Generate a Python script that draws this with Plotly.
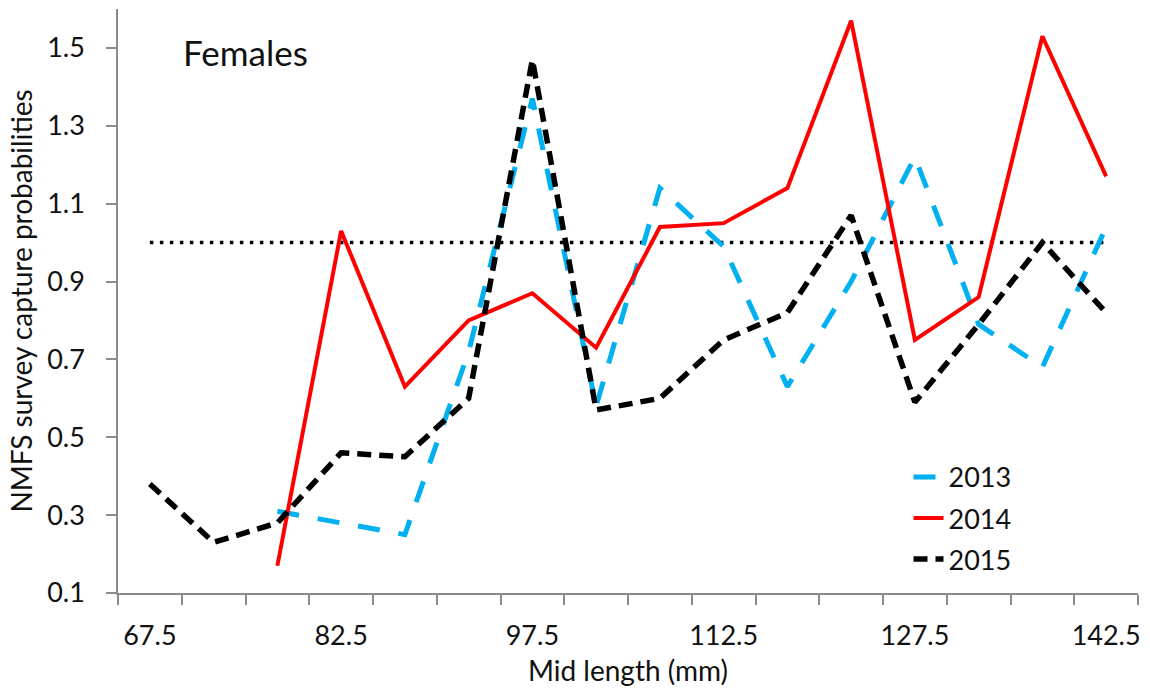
import plotly.graph_objects as go

# Mid length categories (mm)
mid_length = [67.5, 72.5, 77.5, 82.5, 87.5, 92.5, 97.5, 102.5, 107.5,
              112.5, 117.5, 122.5, 127.5, 132.5, 137.5, 142.5]
x_tick_labels = [67.5, 82.5, 97.5, 112.5, 127.5, 142.5]
y_tick_values = [0.1, 0.3, 0.5, 0.7, 0.9, 1.1, 1.3, 1.5]

y2013 = [None, None, 0.31, 0.28, 0.25, 0.72, 1.37, 0.58, 1.14, 0.99,
         0.63, 0.90, 1.22, 0.79, 0.68, 1.04]
y2014 = [None, None, 0.17, 1.03, 0.63, 0.80, 0.87, 0.73, 1.04, 1.05,
         1.14, 1.57, 0.75, 0.86, 1.53, 1.17]
y2015 = [0.38, 0.23, 0.28, 0.46, 0.45, 0.60, 1.47, 0.57, 0.60, 0.75,
         0.82, 1.07, 0.59, 0.79, 1.00, 0.82]
reference_level = 1.0

FONT = "Lato"
AXIS_GREY = "#8c8c8c"

fig = go.Figure()

fig.add_trace(go.Scatter(
    x=[mid_length[0], mid_length[-1]], y=[reference_level, reference_level],
    mode="lines", line=dict(color="black", width=3.5, dash="3.5px,6.5px"),
    showlegend=False, hoverinfo="skip"))

fig.add_trace(go.Scatter(
    x=mid_length, y=y2013, name="2013", mode="lines", legendgroup="a",
    line=dict(color="#00B0F0", width=5, dash="22px,19px")))
fig.add_trace(go.Scatter(
    x=mid_length, y=y2014, name="2014", mode="lines", legendgroup="b",
    line=dict(color="#FF0000", width=4)))
fig.add_trace(go.Scatter(
    x=mid_length, y=y2015, name="2015", mode="lines", legendgroup="c",
    line=dict(color="black", width=5.5, dash="14px,8px")))

fig.add_annotation(
    text="Females", xref="paper", yref="paper", x=0.062, y=0.926,
    xanchor="left", yanchor="middle", showarrow=False,
    font=dict(family=FONT, size=35, color="#111111"))

fig.update_layout(
    width=1150, height=692,
    margin=dict(l=118, r=10, t=9, b=99),
    paper_bgcolor="white", plot_bgcolor="white",
    font=dict(family=FONT, size=27, color="#111111"),
    legend=dict(x=0.775, y=0.24, xanchor="left", yanchor="top",
                bgcolor="rgba(0,0,0,0)", font=dict(family=FONT, size=27),
                tracegroupgap=3, traceorder="grouped"),
    xaxis=dict(
        range=[65, 145], showgrid=False, zeroline=False,
        showline=True, linecolor=AXIS_GREY, linewidth=1.5,
        tickvals=x_tick_labels, ticktext=[f"{v:.1f}" for v in x_tick_labels],
        ticks="", ticklabelstandoff=18,
        minor=dict(ticks="outside", ticklen=10, tickcolor=AXIS_GREY,
                   tickwidth=1.5, tick0=65, dtick=5, showgrid=False),
        title=dict(text="Mid length (mm)", font=dict(family=FONT, size=28),
                   standoff=11),
    ),
    yaxis=dict(
        range=[0.1, 1.6], showgrid=False, zeroline=False,
        showline=True, linecolor=AXIS_GREY, linewidth=1.5,
        tickvals=y_tick_values, tickformat=".1f",
        ticks="outside", ticklen=10, tickcolor=AXIS_GREY, tickwidth=1.5,
        ticklabelstandoff=16,
        title=dict(text="NMFS survey capture probabilities",
                   font=dict(family=FONT, size=28), standoff=6),
    ),
)

fig.write_html("out.html")
